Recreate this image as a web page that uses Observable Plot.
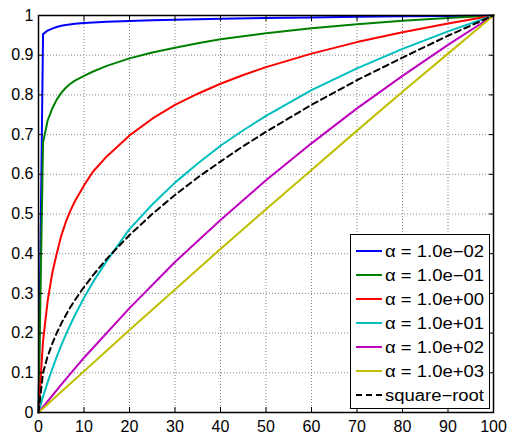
<!DOCTYPE html>
<html><head><meta charset="utf-8">
<script src="https://cdn.jsdelivr.net/npm/d3@7"></script>
<script src="https://cdn.jsdelivr.net/npm/@observablehq/plot@0.6"></script>
<style>
body{margin:0;background:#fff;}
#wrap{position:relative;width:511px;height:436px;}
#wrap svg{position:absolute;left:0;top:0;}
</style></head><body><div id="wrap"></div>
<script>
const xTicks = [0,10,20,30,40,50,60,70,80,90,100];
const yTicks = [0,0.1,0.2,0.3,0.4,0.5,0.6,0.7,0.8,0.9,1];
const yTickLabels = ["0","0.1","0.2","0.3","0.4","0.5","0.6","0.7","0.8","0.9","1"];

const seriesNames = ["α = 1.0e−02","α = 1.0e−01","α = 1.0e+00","α = 1.0e+01","α = 1.0e+02","α = 1.0e+03","square−root"];
const seriesColors = ["#0000ff","#008000","#ff0000","#00bfbf","#bf00bf","#bfbf00","#000000"];

const xBlue = [0,1,2,3,4,5,6,8,10,15,20,25,30,40,50,60,70,80,90,100];
const yBlue = [0,0.953,0.962,0.967,0.971,0.974,0.976,0.979,0.981,0.984,0.986,0.988,0.989,0.992,0.994,0.995,0.997,0.998,0.999,1];

const xDense = [0,1,2,3,4,5,6,7,8,10,12,15,20,25,30,35,40,45,50,60,70,80,90,100];
const yGreen = [0,0.68,0.735,0.765,0.788,0.805,0.818,0.828,0.836,0.848,0.859,0.873,0.892,0.907,0.919,0.930,0.940,0.948,0.955,0.968,0.978,0.987,0.994,1];
const yRed = [0,0.18,0.28,0.35,0.40,0.445,0.48,0.508,0.532,0.572,0.607,0.645,0.698,0.740,0.775,0.803,0.828,0.850,0.870,0.904,0.933,0.958,0.980,1];
const yCyan = [0,0.040,0.076,0.109,0.140,0.169,0.196,0.221,0.245,0.289,0.329,0.382,0.462,0.524,0.579,0.627,0.672,0.711,0.747,0.812,0.867,0.916,0.960,1];
const ySqrt = [0,0.1,0.141,0.173,0.2,0.224,0.245,0.265,0.283,0.316,0.346,0.387,0.447,0.5,0.548,0.592,0.632,0.671,0.707,0.775,0.837,0.894,0.949,1];

const xSparse = [0,5,10,20,30,40,50,60,70,80,90,100];
const yMagenta = [0,0.070,0.138,0.263,0.379,0.485,0.585,0.678,0.766,0.848,0.926,1];
const yYellow = [0,0.052,0.104,0.208,0.310,0.412,0.512,0.611,0.710,0.808,0.904,1];

const seriesX = [xBlue,xDense,xDense,xDense,xSparse,xSparse,xDense];
const seriesY = [yBlue,yGreen,yRed,yCyan,yMagenta,yYellow,ySqrt];

const rows = [];
seriesNames.forEach((name,i)=>{
  seriesX[i].forEach((x,j)=>rows.push({series:name, x, y:seriesY[i][j]}));
});
const solidRows = rows.filter(r=>r.series!=="square−root");
const dashRows = rows.filter(r=>r.series==="square−root");

const font = "'Liberation Sans', Arial, Helvetica, sans-serif";

const chart = Plot.plot({
  width:511, height:436,
  marginLeft:38, marginRight:18, marginTop:15, marginBottom:24,
  style:{fontFamily:font, fontSize:"16px", color:"#000", background:"#fff", overflow:"visible"},
  x:{domain:[0,100]},
  y:{domain:[0,1]},
  color:{domain:seriesNames, range:seriesColors},
  marks:[
    Plot.gridX(xTicks,{stroke:"#888", strokeOpacity:1, strokeDasharray:"1,2"}),
    Plot.gridY(yTicks,{stroke:"#888", strokeOpacity:1, strokeDasharray:"1,2"}),
    Plot.line(solidRows,{x:"x", y:"y", z:"series", stroke:"series", strokeWidth:2}),
    Plot.line(dashRows,{x:"x", y:"y", stroke:"#000", strokeWidth:2, strokeDasharray:"6,4"}),
    Plot.axisX({anchor:"bottom", ticks:xTicks, tickSize:0, tickPadding:8, label:null, fill:"#000"}),
    Plot.axisY({anchor:"left", ticks:yTicks, tickSize:0, tickPadding:5, label:null, fill:"#000",
      tickFormat:d=>yTickLabels[yTicks.indexOf(d)]}),
    Plot.axisX({anchor:"bottom", ticks:xTicks, tickSize:-5, tickFormat:()=>"", label:null, stroke:"#000"}),
    Plot.axisX({anchor:"top", ticks:xTicks, tickSize:-5, tickFormat:()=>"", label:null, stroke:"#000"}),
    Plot.axisY({anchor:"left", ticks:yTicks, tickSize:-5, tickFormat:()=>"", label:null, stroke:"#000"}),
    Plot.axisY({anchor:"right", ticks:yTicks, tickSize:-5, tickFormat:()=>"", label:null, stroke:"#000"}),
    Plot.frame({stroke:"#000", strokeWidth:1.5})
  ]
});
const wrap = document.getElementById("wrap");
wrap.appendChild(chart);

// legend overlay (inside plot area, MATLAB style)
const lg = d3.select(wrap).append("svg").attr("width",511).attr("height",436)
  .style("pointer-events","none").style("font-family",font);
const L = {x:350.5, y:234.5, w:139, h:174, row0:251, dy:24};
lg.append("rect").attr("x",L.x).attr("y",L.y).attr("width",L.w).attr("height",L.h)
  .attr("fill","#fff").attr("stroke","#000").attr("stroke-width",1);
seriesNames.forEach((name,i)=>{
  const cy = L.row0 + i*L.dy;
  lg.append("line").attr("x1",356).attr("x2",382).attr("y1",cy).attr("y2",cy)
    .attr("stroke",seriesColors[i]).attr("stroke-width",2)
    .attr("stroke-dasharray", name==="square−root" ? "6,4" : null);
  lg.append("text").attr("x",385).attr("y",cy).attr("dy","0.36em")
    .attr("font-size",16).attr("fill","#000")
    .attr("textLength",99).attr("lengthAdjust","spacingAndGlyphs")
    .text(name);
});
</script></body></html>
